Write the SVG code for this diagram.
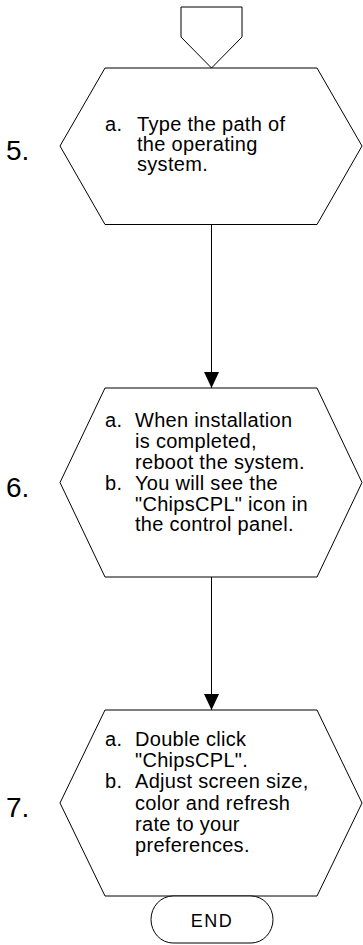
<svg xmlns="http://www.w3.org/2000/svg" width="363" height="945" viewBox="0 0 363 945">
<style>
.shape{fill:#fff;stroke:#000;stroke-width:1}
.t{font-family:"Liberation Sans",Arial,sans-serif;font-size:20px;fill:#000;letter-spacing:0.3px}
.num{font-family:"Liberation Sans",Arial,sans-serif;font-size:28px;fill:#000}
.end{font-family:"Liberation Sans",Arial,sans-serif;font-size:18px;fill:#000;letter-spacing:1.5px}
.edge{stroke:#000;stroke-width:1;fill:none}
</style>
<defs>
<marker id="arr" markerWidth="16" markerHeight="15" refX="16" refY="7.5" orient="auto" markerUnits="userSpaceOnUse">
<path d="M0,0 L16,7.5 L0,15 Z" fill="#000"/>
</marker>
</defs>
<rect width="363" height="945" fill="#fff"/>
<g id="connectors">
<line class="edge" x1="211.5" y1="224.5" x2="211.5" y2="388" marker-end="url(#arr)"/>
<line class="edge" x1="211.5" y1="577" x2="211.5" y2="710" marker-end="url(#arr)"/>
</g>
<g id="offpage">
<polygon class="shape" points="181,7 242,7 242,37 211.5,68 181,37"/>
</g>
<g id="step5">
<polygon class="shape" points="105,68 317,68 362,146 317,224.5 105,224.5 60,146"/>
<text class="num" x="6" y="160">5.</text>
<text class="t" x="105" y="130.5">a.</text>
<text class="t" x="137" y="130.5">Type the path of</text>
<text class="t" x="137" y="150.5">the operating</text>
<text class="t" x="137" y="170.5">system.</text>
</g>
<g id="step6">
<polygon class="shape" points="105,388 317,388 362,482.5 317,577 105,577 60,482.5"/>
<text class="num" x="6" y="497">6.</text>
<text class="t" x="105" y="427">a.</text>
<text class="t" x="135" y="427">When installation</text>
<text class="t" x="135" y="448">is completed,</text>
<text class="t" x="135" y="469">reboot the system.</text>
<text class="t" x="105" y="490">b.</text>
<text class="t" x="135" y="490">You will see the</text>
<text class="t" x="135" y="510.5">"ChipsCPL" icon in</text>
<text class="t" x="135" y="531">the control panel.</text>
</g>
<g id="step7">
<polygon class="shape" points="105,710 317,710 362,803 317,896 105,896 60,803"/>
<text class="num" x="6" y="817">7.</text>
<text class="t" x="105" y="746">a.</text>
<text class="t" x="135" y="746">Double click</text>
<text class="t" x="135" y="767">"ChipsCPL".</text>
<text class="t" x="105" y="788">b.</text>
<text class="t" x="135" y="788">Adjust screen size,</text>
<text class="t" x="135" y="810">color and refresh</text>
<text class="t" x="135" y="831">rate to your</text>
<text class="t" x="135" y="852">preferences.</text>
</g>
<g id="end">
<rect class="shape" x="151" y="896" width="122" height="47" rx="22" ry="23.5"/>
<text class="end" x="212" y="927" text-anchor="middle">END</text>
</g>
</svg>
